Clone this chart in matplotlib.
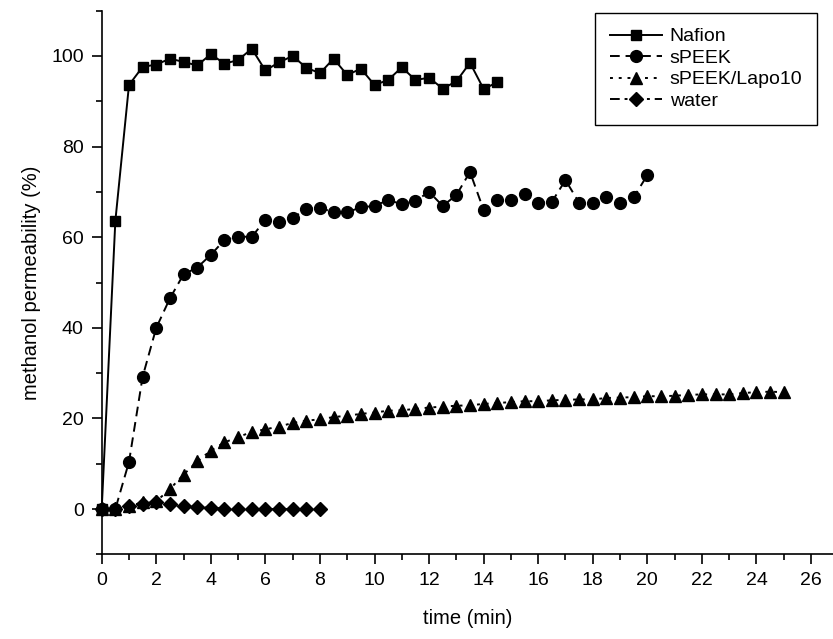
import numpy as np
import matplotlib
matplotlib.use("Agg")
import matplotlib.pyplot as plt
from matplotlib.ticker import MultipleLocator

plt.rcParams["font.family"] = ["Liberation Sans", "DejaVu Sans"]

# time (min) and methanol permeability (%)
nafion_t = np.arange(0, 15, 0.5)
nafion_p = [0, 63.6, 93.6, 97.6, 98.1, 99.4, 98.7, 97.9, 100.4, 98.3,
            99.1, 101.6, 96.8, 98.6, 100.0, 97.4, 96.2, 99.4, 95.8, 97.2,
            93.6, 94.7, 97.5, 94.7, 95.2, 92.8, 94.4, 98.5, 92.7, 94.2]

speek_t = np.arange(0, 20.5, 0.5)
speek_p = [0, 0, 10.4, 29.2, 40.0, 46.5, 51.8, 53.3, 56.1, 59.4,
           60.1, 60.1, 63.8, 63.4, 64.2, 66.3, 66.5, 65.5, 65.5, 66.6,
           66.9, 68.2, 67.3, 68.0, 70.0, 66.9, 69.3, 74.4, 66.0, 68.2,
           68.2, 69.5, 67.6, 67.8, 72.6, 67.6, 67.6, 68.9, 67.6, 68.8,
           73.7]

lapo_t = np.arange(0, 25.5, 0.5)
lapo_p = [0, 0, 0.6, 1.5, 1.7, 4.4, 7.6, 10.5, 12.9, 14.7,
          15.9, 17.0, 17.6, 18.2, 19.0, 19.5, 19.8, 20.3, 20.6, 21.0,
          21.3, 21.7, 21.8, 22.1, 22.4, 22.6, 22.8, 22.9, 23.2, 23.4,
          23.6, 23.8, 23.8, 24.0, 24.1, 24.2, 24.2, 24.5, 24.6, 24.7,
          24.9, 24.9, 25.0, 25.2, 25.3, 25.3, 25.3, 25.6, 25.8, 25.9,
          25.8]

water_t = np.arange(0, 8.5, 0.5)
water_p = [0, 0, 0.6, 1.2, 1.6, 1.0, 0.6, 0.4, 0.3, 0.1,
           0.1, 0, 0, 0, 0, 0, 0]

fig = plt.figure(figsize=(8.33, 6.39), dpi=100)
ax = fig.add_axes([0.1221, 0.1325, 0.8777, 0.8508])

kw = dict(color="black", lw=1.4, mec="black", clip_on=False)
ax.plot(nafion_t, nafion_p, ls="-", marker="s", ms=7.5, label="Nafion", **kw)
ax.plot(speek_t, speek_p, ls=(0, (5, 3)), marker="o", ms=8.5, label="sPEEK", **kw)
ax.plot(lapo_t, lapo_p, ls=(0, (1.5, 3)), marker="^", ms=8.5, label="sPEEK/Lapo10", **kw)
ax.plot(water_t, water_p, ls=(0, (5, 2.5, 1.5, 2.5)), marker="D", ms=7,
        label="water", **kw)

ax.set_xlim(0, 26.8)
ax.set_ylim(-10, 110)
ax.xaxis.set_major_locator(MultipleLocator(2))
ax.xaxis.set_minor_locator(MultipleLocator(1))
ax.yaxis.set_major_locator(MultipleLocator(20))
ax.yaxis.set_minor_locator(MultipleLocator(10))

for s in ["top", "right"]:
    ax.spines[s].set_visible(False)
for s in ["left", "bottom"]:
    ax.spines[s].set_linewidth(1.2)

ax.tick_params(which="major", direction="out", length=7.5, width=1.2,
               labelsize=14, pad=5.5)
ax.tick_params(which="minor", direction="out", length=4, width=1.2)

ax.set_xlabel("time (min)", fontsize=14.5, labelpad=14)
ax.set_ylabel("methanol permeability (%)", fontsize=14.5, labelpad=7)

leg = ax.legend(loc="upper left", bbox_to_anchor=(0.7143, 0.9792),
                bbox_transform=fig.transFigure, borderaxespad=0,
                fontsize=14, handlelength=2.7, handletextpad=0.4,
                labelspacing=0.2, borderpad=0.75, fancybox=False,
                framealpha=1)
leg.get_frame().set_edgecolor("black")
leg.get_frame().set_linewidth(1.0)

fig.savefig("out.png", dpi=100)
